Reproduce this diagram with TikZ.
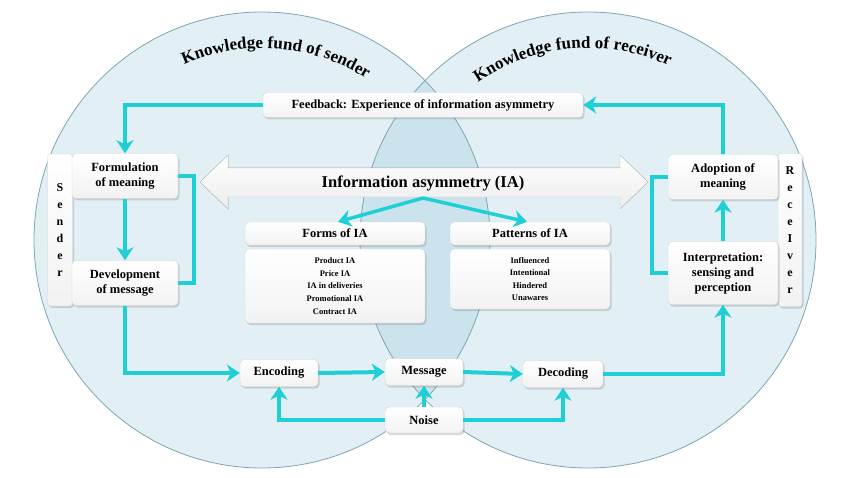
\documentclass[tikz,border=0pt]{standalone}
\usepackage{fontspec}
\setmainfont{Liberation Serif}
\usetikzlibrary{arrows.meta,shadows,decorations.text,positioning}

\definecolor{fundfill}{RGB}{226,240,245}
\definecolor{lensfill}{RGB}{203,227,236}
\definecolor{fundline}{RGB}{125,165,180}
\definecolor{flow}{RGB}{30,208,214}

\newcommand\boxfont{\fontsize{12.5}{15}\selectfont\bfseries}
\newcommand\listfont{\fontsize{8.5}{12.6}\selectfont\bfseries}

\tikzset{
  box/.style={draw=gray!35, top color=white, bottom color=gray!10, rounded corners=4pt,
    font=\boxfont, align=center, inner sep=2pt,
    drop shadow={opacity=0.3, shadow xshift=1.5pt, shadow yshift=-2pt}},
  strip/.style={box, font=\fontsize{12}{17}\selectfont\bfseries, rounded corners=3pt},
  flowline/.style={draw=flow, line width=4pt, -{Stealth[length=13pt, width=17pt, inset=4pt]}},
  link/.style={draw=flow, line width=4pt},
}

\begin{document}
\begin{tikzpicture}[x=1pt, y=-1pt]
\useasboundingbox (0,0) rectangle (850,478);
\fill[white] (0,0) rectangle (850,478);

% Knowledge funds of sender and receiver
\fill[fundfill] (262,240) circle (228pt);
\fill[fundfill] (588,240) circle (228pt);
\begin{scope}
  \clip (262,240) circle (228pt);
  \fill[lensfill] (588,240) circle (228pt);
\end{scope}
\draw[fundline, line width=0.8pt] (262,240) circle (228pt);
\draw[fundline, line width=0.8pt] (588,240) circle (228pt);

% Curved titles
\path[decorate, decoration={text along path, text align=center,
    text={|\fontsize{17}{19}\selectfont\bfseries|Knowledge fund of sender}}]
  (262,240) ++(120:192pt) arc[start angle=120, end angle=51, radius=192pt];
\path[decorate, decoration={text along path, text align=center,
    text={|\fontsize{17}{19}\selectfont\bfseries|Knowledge fund of receiver}}]
  (588,240) ++(132:192pt) arc[start angle=132, end angle=58, radius=192pt];

% Side strips
\node[strip, minimum width=25pt, minimum height=152pt] (sender) at (60,230) {S\\e\\n\\d\\e\\r};
\node[strip, minimum width=24pt, minimum height=153pt] (receiver) at (790,230) {R\\e\\c\\e\\I\\v\\e\\r};

% Process boxes
\node[box, minimum width=320pt, minimum height=25pt] (feedback) at (423,105) {Feedback: Experience of information asymmetry};
\node[box, minimum width=106pt, minimum height=45pt] (formulation) at (125,176) {Formulation\\of meaning};
\node[box, minimum width=106pt, minimum height=45pt] (development) at (125,283) {Development\\of message};
\node[box, minimum width=110pt, minimum height=45pt] (adoption) at (723,177) {Adoption of\\meaning};
\node[box, minimum width=110pt, minimum height=63pt] (interp) at (723,273) {Interpretation:\\sensing and\\perception};
\node[box, minimum width=78pt, minimum height=27pt] (encoding) at (279,373) {Encoding};
\node[box, minimum width=78pt, minimum height=27pt] (message) at (424,372) {Message};
\node[box, minimum width=80pt, minimum height=27pt] (decoding) at (563,374) {Decoding};
\node[box, minimum width=78pt, minimum height=26pt] (noise) at (424,420) {Noise};

% Information asymmetry
\filldraw[draw=gray!45, top color=white, bottom color=gray!15]
  (200,182) -- (228,155) -- (228,168) -- (620,168) -- (620,155) -- (648,182)
  -- (620,209) -- (620,197) -- (228,197) -- (228,209) -- cycle;
\node[font=\fontsize{16.5}{18}\selectfont\bfseries] (ia) at (423,183) {Information asymmetry (IA)};
\coordinate (split) at (423,198);

\node[box, minimum width=180pt, minimum height=23pt] (formshead) at (335,233.5) {Forms of IA};
\node[box, font=\listfont, minimum width=180pt, minimum height=74pt] (formsbody) at (335,286)
  {Product IA\\Price IA\\IA in deliveries\\Promotional IA\\Contract IA};
\node[box, minimum width=160pt, minimum height=23pt] (patthead) at (530,233.5) {Patterns of IA};
\node[box, font=\listfont, minimum width=160pt, minimum height=60pt] (pattbody) at (530,279)
  {Influenced\\Intentional\\Hindered\\Unawares};

% Flows
\draw[flowline, line width=3.5pt] (split) -- ([xshift=3pt]formshead.north);
\draw[flowline, line width=3.5pt] (split) -- ([xshift=-3pt]patthead.north);
\draw[flowline] (feedback.west) -| (formulation.north);
\draw[flowline] (formulation.south) -- (development.north);
\draw[link] (formulation.east) -- ++(16,0) |- (development.east);
\draw[flowline] (development.south) |- (encoding.west);
\draw[flowline] (encoding.east) -- (message.west);
\draw[flowline] (message.east) -- (decoding.west);
\draw[flowline] (noise.north) -- (message.south);
\draw[flowline] (noise.west) -| (encoding.south);
\draw[flowline] (noise.east) -| (decoding.south);
\draw[flowline] (decoding.east) -| (interp.south);
\draw[flowline] (interp.north) -- (adoption.south);
\draw[link] (interp.west) -- ++(-16,0) |- (adoption.west);
\draw[flowline] (adoption.north) |- (feedback.east);
\end{tikzpicture}
\end{document}
